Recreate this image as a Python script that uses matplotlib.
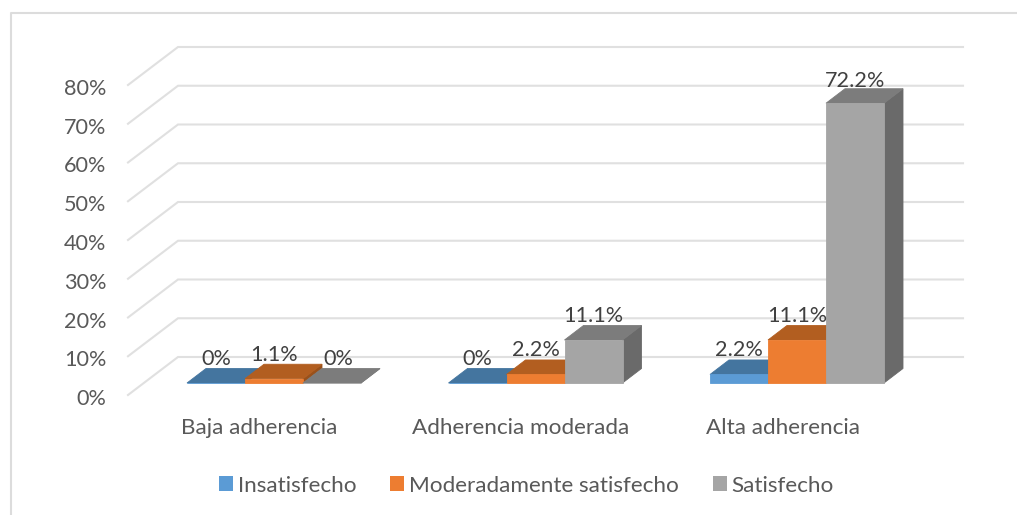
"""
Grafico de barras con aspecto 3D: adherencia y satisfaccion
"""

import matplotlib

matplotlib.use("Agg")
import matplotlib.pyplot as plt
from matplotlib.lines import Line2D
from matplotlib.patches import Patch, Polygon
from matplotlib.transforms import ScaledTranslation

plt.rcParams["font.family"] = ["Lato", "DejaVu Sans"]

categories = ["Baja adherencia", "Adherencia moderada", "Alta adherencia"]
series_names = ["Insatisfecho", "Moderadamente satisfecho", "Satisfecho"]
insatisfecho = [0, 0, 2.2]
moderado = [1.1, 2.2, 11.1]
satisfecho = [0, 11.1, 72.2]
y_ticks = [0, 10, 20, 30, 40, 50, 60, 70, 80]

front_colors = ["#5B9BD5", "#ED7D31", "#A5A5A5"]
top_colors = ["#44759F", "#B25E20", "#7C7C7C"]
side_colors = ["#3B6488", "#9A511B", "#6A6A6A"]
GRID = "#E0E0E0"
TEXT = "#595959"
LABEL = "#404040"
FS_TEXT = 16.2
FS_NUM = 15.6

W, H = 1017, 515
LEFT, RIGHT, TOP, BOTTOM = 128, 963, 47, 395
PX_PER_CAT = 261.5
PX_PER_PCT = 3.875
FIRST_TICK = 259.5

fig = plt.figure(figsize=(W / 100, H / 100), dpi=100)
ax = fig.add_axes(
    [LEFT / W, 1 - BOTTOM / H, (RIGHT - LEFT) / W, (BOTTOM - TOP) / H]
)
ax.set_xlim((LEFT - FIRST_TICK) / PX_PER_CAT, (RIGHT - FIRST_TICK) / PX_PER_CAT)
ax.set_ylim(0, (BOTTOM - TOP) / PX_PER_PCT)


def dx(px):
    return px / PX_PER_CAT


def dy(px):
    return px / PX_PER_PCT


# paredes del grafico
wall_x, wall_y = dx(50), dy(38)
for t in y_ticks:
    ax.plot(
        [ax.get_xlim()[0], ax.get_xlim()[0] + wall_x, ax.get_xlim()[1]],
        [t, t + wall_y, t + wall_y],
        color=GRID,
        lw=1.5,
        clip_on=False,
        zorder=1,
        solid_joinstyle="miter",
    )

# barras
floor_x, floor_y = dx(14.5), dy(12)
depth_x, depth_y = dx(19), dy(14.5)
bar_w = dx(58)
all_series = [insatisfecho, moderado, satisfecho]
label_shift = {(2, 0): (6, 0), (2, 2): (0, -2)}

for c in range(len(categories)):
    for s, values in enumerate(all_series):
        v = values[c]
        x0 = c + floor_x + (s - 1.5) * bar_w
        x1 = x0 + bar_w
        y0 = floor_y
        y1 = y0 + v
        z = 3 + c + s * 0.1
        faces = [
            (
                [(x1, y0), (x1 + depth_x, y0 + depth_y), (x1 + depth_x, y1 + depth_y), (x1, y1)],
                side_colors[s],
            ),
            (
                [(x0, y1), (x1, y1), (x1 + depth_x, y1 + depth_y), (x0 + depth_x, y1 + depth_y)],
                top_colors[s],
            ),
            ([(x0, y0), (x1, y0), (x1, y1), (x0, y1)], front_colors[s]),
        ]
        for pts, col in faces:
            ax.add_patch(
                Polygon(pts, closed=True, facecolor=col, edgecolor=col, lw=0.6, zorder=z, clip_on=False)
            )
        sx, sy = label_shift.get((s, c), (0, 0))
        text = "0%" if v == 0 else f"{v:.1f}%"
        ax.text(
            (x0 + x1) / 2 + dx(sx),
            y1 + dy(24 + sy),
            text,
            ha="center",
            va="center",
            fontsize=FS_NUM,
            color=LABEL,
            zorder=10,
        )

# ejes
ax.set_xticks(range(len(categories)), categories)
ax.set_yticks(y_ticks, [f"{t}%" for t in y_ticks])
ax.tick_params(axis="both", length=0, labelcolor=TEXT)
ax.tick_params(axis="x", pad=16.5, labelsize=FS_TEXT)
ax.tick_params(axis="y", pad=15.5, labelsize=FS_NUM)
down = ScaledTranslation(0, -2 / 100, fig.dpi_scale_trans)
for label in ax.get_yticklabels():
    label.set_transform(label.get_transform() + down)
for spine in ax.spines.values():
    spine.set_visible(False)
ax.patch.set_visible(False)

handles = [Patch(facecolor=c, edgecolor="none") for c in front_colors]
fig.legend(
    handles,
    series_names,
    loc="center",
    bbox_to_anchor=(526.5 / W, 1 - 485.5 / H),
    ncol=3,
    frameon=False,
    fontsize=FS_TEXT,
    labelcolor=TEXT,
    handlelength=0.62,
    handleheight=0.62,
    handletextpad=0.22,
    columnspacing=1.5,
)

# marco exterior, solo izquierda y arriba
frame = [(10.5, 515), (10.5, 12.5), (1017, 12.5)]
fig.add_artist(
    Line2D(
        [p[0] / W for p in frame],
        [1 - p[1] / H for p in frame],
        color="#DCDCDC",
        lw=1.5,
        transform=fig.transFigure,
    )
)

fig.savefig("out.png", dpi=100)
